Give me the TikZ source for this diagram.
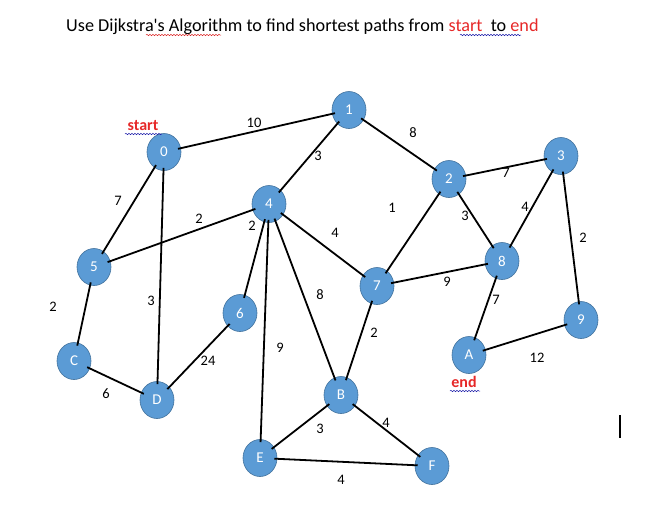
\documentclass[tikz,border=0pt]{standalone}
\usepackage{fontspec}
\setmainfont{Carlito}
\newfontfamily\titlefont{Carlito}
\usetikzlibrary{shapes.geometric,decorations.pathmorphing}
\definecolor{nodefill}{RGB}{91,155,213}
\definecolor{nodeline}{RGB}{65,113,156}
\definecolor{redtxt}{RGB}{230,40,40}
\definecolor{squigblue}{RGB}{30,30,170}
\definecolor{squigred}{RGB}{220,40,40}
\tikzset{
  vert/.style={ellipse, draw=nodeline, line width=0.6pt, fill=nodefill, minimum width=34pt, minimum height=37pt, inner sep=0pt, text=white, font=\fontsize{15}{15}\selectfont},
  edge/.style={line width=1.8pt, shorten <=-3pt, shorten >=-3pt},
  wlab/.style={font=\fontsize{14.5}{14.5}\selectfont, inner sep=0pt},
  squig/.style={decorate, decoration={snake, amplitude=0.7pt, segment length=3pt}, line width=0.5pt}
}
\begin{document}
\begin{tikzpicture}[x=1pt,y=-1pt]
\useasboundingbox (0,0) rectangle (648,507);
% title
\node[anchor=base west, inner sep=0pt, font=\titlefont\fontsize{18.2}{18.2}\selectfont] (title) at (66,31)
  {Use Dijkstra's Algorithm to find shortest paths from \textcolor{redtxt}{start}\ \ to \textcolor{redtxt}{end}};
\coordinate (sq1a) at (146,35); \coordinate (sq1b) at (221,35);
\coordinate (sq2a) at (460,35); \coordinate (sq2b) at (521,35);
\draw[squig, squigred] (sq1a) -- (sq1b);
\draw[squig, squigblue] (sq2a) -- (sq2b);
% vertices
\node[vert] (v0) at (164,152) {0};
\node[vert] (v1) at (349,110) {1};
\node[vert] (v2) at (449,179) {2};
\node[vert] (v3) at (561,156) {3};
\node[vert] (v4) at (269,204) {4};
\node[vert] (v5) at (94,267) {5};
\node[vert] (v6) at (240,313) {6};
\node[vert] (v7) at (377,286) {7};
\node[vert] (v8) at (502,261) {8};
\node[vert] (v9) at (581,320) {9};
\node[vert] (vA) at (469,355) {A};
\node[vert] (vB) at (341,395) {B};
\node[vert] (vC) at (74,361) {C};
\node[vert] (vD) at (157,400) {D};
\node[vert] (vE) at (260,458) {E};
\node[vert] (vF) at (432,466) {F};
% start / end
\node[font=\bfseries\fontsize{16}{16}\selectfont, text=redtxt, inner sep=0pt] (start) at (143,126) {start};
\node[font=\bfseries\fontsize{16}{16}\selectfont, text=redtxt, inner sep=0pt] (end) at (464,382) {end};
\coordinate (sq3a) at (125,134); \coordinate (sq3b) at (162,134);
\coordinate (sq4a) at (450,391); \coordinate (sq4b) at (480,391);
\draw[squig, squigblue] (sq3a) -- (sq3b);
\draw[squig, squigblue] (sq4a) -- (sq4b);
% edges
\draw[edge] (v0) -- (v1);
\draw[edge] (v1) -- (v4);
\draw[edge] (v1) -- (v2);
\draw[edge] (v0) -- (v5);
\draw[edge] (v0) -- (vD);
\draw[edge] (v4) -- (v5);
\draw[edge] (v4) -- (v6);
\draw[edge] (v4) -- (v7);
\draw[edge] (v4) -- (vB);
\draw[edge] (v4) -- (vE);
\draw[edge] (v2) -- (v7);
\draw[edge] (v2) -- (v3);
\draw[edge] (v2) -- (v8);
\draw[edge] (v3) -- (v8);
\draw[edge] (v3) -- (v9);
\draw[edge] (v7) -- (v8);
\draw[edge] (v8) -- (vA);
\draw[edge] (v9) -- (vA);
\draw[edge] (v7) -- (vB);
\draw[edge] (v5) -- (vC);
\draw[edge] (vC) -- (vD);
\draw[edge] (vD) -- (v6);
\draw[edge] (vB) -- (vE);
\draw[edge] (vB) -- (vF);
\draw[edge] (vE) -- (vF);
% weights
\node[wlab] (w01) at (254,123) {10};
\node[wlab] (w14) at (318,156) {3};
\node[wlab] (w12) at (413,133) {8};
\node[wlab] (w05) at (118,201) {7};
\node[wlab] (w0D) at (151,301) {3};
\node[wlab] (w45) at (199,219) {2};
\node[wlab] (w46) at (252,226) {2};
\node[wlab] (w47) at (335,233) {4};
\node[wlab] (w4B) at (320,295) {8};
\node[wlab] (w4E) at (280,348) {9};
\node[wlab] (w27) at (392,208) {1};
\node[wlab] (w23) at (506,173) {7};
\node[wlab] (w28) at (465,216) {3};
\node[wlab] (w38) at (525,207) {4};
\node[wlab] (w39) at (583,238) {2};
\node[wlab] (w78) at (447,282) {9};
\node[wlab] (w8A) at (496,300) {7};
\node[wlab] (w9A) at (537,358) {12};
\node[wlab] (w7B) at (374,333) {2};
\node[wlab] (w5C) at (53,307) {2};
\node[wlab] (wCD) at (106,394) {6};
\node[wlab] (wD6) at (208,361) {24};
\node[wlab] (wBE) at (320,429) {3};
\node[wlab] (wBF) at (386,423) {4};
\node[wlab] (wEF) at (341,480) {4};
% cursor mark
\coordinate (cur1) at (620,415); \coordinate (cur2) at (620,438);
\draw[line width=1.2pt] (cur1) -- (cur2);
\end{tikzpicture}
\end{document}
